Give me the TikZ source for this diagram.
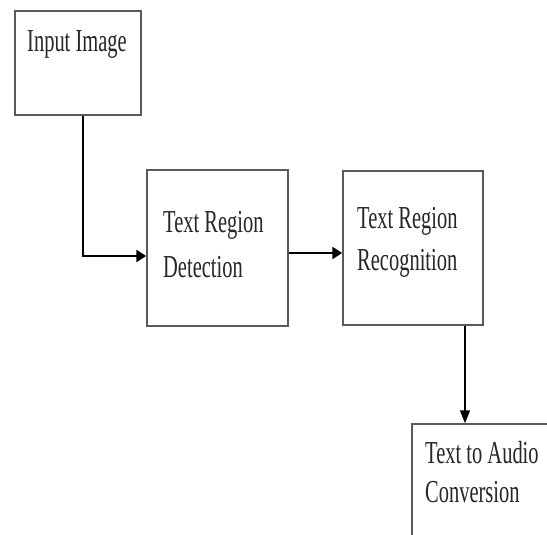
\documentclass[tikz,border=0pt]{standalone}
\usepackage{fontspec}
\newfontfamily\cond[FakeStretch=0.64]{Liberation Serif}
\usetikzlibrary{arrows.meta,calc}
\begin{document}
\begin{tikzpicture}[x=1pt,y=-1pt,
  box/.style={draw=black!65, line width=1.5pt, fill=white, inner sep=0pt},
  lbl/.style={anchor=base west, inner sep=0pt, font=\cond\fontsize{32}{42}\selectfont, text=black!85},
  conn/.style={line width=2.8pt, -{Triangle[length=10pt,width=12pt]}},
  connthin/.style={line width=1.6pt, -{Triangle[length=13pt,width=10pt]}}]
\useasboundingbox (0,0) rectangle (547,535);
\clip (0,0) rectangle (547,535);
\node[box, minimum width=126pt, minimum height=104pt] (b1) at (78,63) {};
\node[box, minimum width=141pt, minimum height=156pt] (b2) at (217.5,248) {};
\node[box, minimum width=140pt, minimum height=154pt] (b3) at (413,248) {};
\node[box, minimum width=140pt, minimum height=150pt] (b4) at (482,499) {};
\node[lbl] (t1) at (27,52) {Input Image};
\node[lbl] (t2a) at (163,233) {Text Region};
\node[lbl] (t2b) at (163,277) {Detection};
\node[lbl] (t3a) at (357,228) {Text Region};
\node[lbl] (t3b) at (357,270) {Recognition};
\node[lbl] (t4a) at (425,463) {Text to Audio};
\node[lbl] (t4b) at (425,502) {Conversion};
\coordinate (c1) at ($(b1.south)+(5,0)$);
\coordinate (c2) at ($(b2.west)+(0,8)$);
\coordinate (c3) at ($(b2.east)+(0,5)$);
\coordinate (c4) at ($(b3.south)+(52,0)$);
\draw[conn] (c1) |- (c2);
\draw[conn] (c3) -- (c3 -| b3.west);
\draw[connthin] (c4) -- (c4 |- b4.north);
\end{tikzpicture}
\end{document}
